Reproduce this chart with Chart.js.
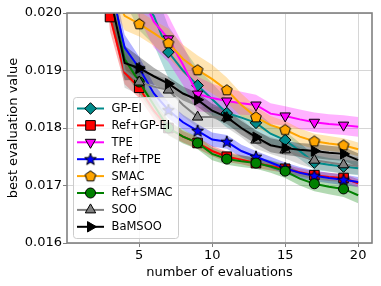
<!DOCTYPE html>
<html>
<head>
<meta charset="utf-8">
<script src="https://cdn.jsdelivr.net/npm/chart.js@4.4.0/dist/chart.umd.min.js"></script>
<style>
  html, body { margin: 0; padding: 0; background: #fff; }
</style>
</head>
<body>
<canvas id="myChart" width="381" height="286"></canvas>
<script>
// data (values above 0.020 are clipped there)
const evals = [1,2,3,4,5,6,7,8,9,10,11,12,13,14,15,16,17,18,19,20]
const xTicks = [5, 10, 15, 20]
const yTicks = [0.016, 0.017, 0.018, 0.019, 0.020]
const seriesNames = ['GP-EI', 'Ref+GP-EI', 'TPE', 'Ref+TPE', 'SMAC', 'Ref+SMAC', 'SOO', 'BaMSOO']

const gpEi = [0.0235,0.0228,0.0215,0.0208,0.0203,0.01995,0.01932,0.0190,0.01874,0.0185,0.01826,0.01818,0.01809,0.0179,0.01779,0.0176,0.0174,0.01736,0.01733,0.0173]
const refGpEi = [0.0245,0.0225,0.01993,0.01896,0.0187,0.0183,0.0180,0.01785,0.01774,0.0176,0.0175,0.01745,0.01739,0.01734,0.01729,0.01723,0.01718,0.01715,0.01713,0.01704]
const tpe = [0.024,0.0232,0.0222,0.0212,0.0204,0.01985,0.01955,0.0191,0.01859,0.01852,0.01847,0.01843,0.0184,0.01825,0.01821,0.01815,0.0181,0.01807,0.01805,0.01802]
const refTpe = [0.024,0.0228,0.0205,0.0194,0.01904,0.0186,0.01831,0.0181,0.01795,0.0178,0.01776,0.0176,0.0175,0.0174,0.0173,0.01722,0.01717,0.01713,0.0171,0.01706]
const smac = [0.024,0.0225,0.0205,0.01995,0.01981,0.01965,0.01948,0.0192,0.01901,0.01885,0.01866,0.0184,0.01819,0.01805,0.01797,0.01785,0.01777,0.01773,0.0177,0.01763]
const refSmac = [0.0245,0.0228,0.0203,0.0192,0.0188,0.0184,0.0180,0.01785,0.01774,0.01755,0.01746,0.01742,0.01739,0.01733,0.01725,0.01712,0.01703,0.01698,0.01694,0.01683]
const soo = [0.0245,0.023,0.0205,0.019,0.0188,0.01872,0.01866,0.0184,0.01819,0.01819,0.01818,0.018,0.01779,0.0177,0.01762,0.01752,0.01744,0.0174,0.01736,0.01734]
const baMsoo = [0.0245,0.023,0.0203,0.01913,0.01904,0.0189,0.01877,0.0186,0.01849,0.0183,0.01819,0.018,0.01784,0.0177,0.01765,0.01762,0.0176,0.01757,0.01755,0.01744]

// half widths of the shaded bands
const gpEiSpread = [0.0006,0.0006,0.0006,0.0006,0.0006,0.0005,0.00045,0.0004,0.0003,0.00028,0.00025,0.00022,0.0002,0.00018,0.00016,0.00014,0.00013,0.00012,0.00012,0.00012]
const refGpEiSpread = [0.0005,0.0004,0.00025,0.0002,0.00018,0.00015,0.00012,0.0001,0.0001,0.00009,0.00009,0.00008,0.00008,0.00008,0.00007,0.00007,0.00007,0.00007,0.00007,0.00007]
const tpeSpread = [0.0006,0.0006,0.0006,0.0006,0.0005,0.00045,0.0004,0.00035,0.0003,0.00025,0.00022,0.0002,0.00018,0.00018,0.00017,0.00017,0.00017,0.00017,0.00017,0.00017]
const refTpeSpread = [0.0005,0.0004,0.0003,0.00022,0.0002,0.00016,0.00014,0.00013,0.00012,0.00012,0.00012,0.00011,0.0001,0.0001,0.0001,0.0001,0.00009,0.00009,0.00009,0.00009]
const smacSpread = [0.0004,0.0004,0.0003,0.00025,0.00022,0.00022,0.00025,0.00025,0.00025,0.00025,0.00022,0.0002,0.00018,0.00016,0.00015,0.00014,0.00013,0.00013,0.00012,0.00012]
const refSmacSpread = [0.0005,0.0004,0.0003,0.00025,0.0002,0.00016,0.00013,0.00012,0.00011,0.00011,0.0001,0.0001,0.0001,0.00011,0.00012,0.00012,0.00013,0.00013,0.00014,0.00014]
const sooSpread = [0.0005,0.0005,0.0004,0.0003,0.00022,0.0002,0.0002,0.0002,0.00018,0.00018,0.00017,0.00016,0.00015,0.00015,0.00015,0.00015,0.00015,0.00015,0.00015,0.00015]
const baMsooSpread = [0.0005,0.0005,0.0004,0.0003,0.0002,0.00015,0.00012,0.00012,0.00012,0.00012,0.00012,0.00012,0.00012,0.00012,0.00012,0.00012,0.00012,0.00012,0.00012,0.00012]

const allValues = [gpEi, refGpEi, tpe, refTpe, smac, refSmac, soo, baMsoo]
const allSpreads = [gpEiSpread, refGpEiSpread, tpeSpread, refTpeSpread, smacSpread, refSmacSpread, sooSpread, baMsooSpread]

// custom marker shapes
function makeMarker(kind, color) {
    let c = document.createElement('canvas')
    c.width = 14
    c.height = 14
    let g = c.getContext('2d')
    g.beginPath()
    let n = kind == 'star' ? 10 : 5
    for (let k = 0; k < n; k++) {
        let ang = -Math.PI / 2 + k * 2 * Math.PI / n
        let r = kind == 'star' ? (k % 2 == 0 ? 6.3 : 2.6) : 5.6
        let px = 7 + r * Math.cos(ang)
        let py = 7.3 + r * Math.sin(ang)
        if (k == 0) g.moveTo(px, py)
        else g.lineTo(px, py)
    }
    g.closePath()
    g.fillStyle = color
    g.fill()
    g.lineWidth = 1
    g.strokeStyle = '#000'
    g.stroke()
    return c
}

const styles = [
    { color: '#008b8b', band: 'rgba(0,139,139,0.3)', pointStyle: 'rectRot', radius: 5.8, rotation: 0 },
    { color: '#ff0000', band: 'rgba(255,0,0,0.3)', pointStyle: 'rect', radius: 6.8, rotation: 0 },
    { color: '#ff00ff', band: 'rgba(255,0,255,0.3)', pointStyle: 'triangle', radius: 6, rotation: 180 },
    { color: '#0000ff', band: 'rgba(0,0,255,0.3)', pointStyle: makeMarker('star', '#0000ff'), radius: 5, rotation: 0 },
    { color: '#ffa500', band: 'rgba(255,165,0,0.3)', pointStyle: makeMarker('pentagon', '#ffa500'), radius: 5, rotation: 0 },
    { color: '#008000', band: 'rgba(0,128,0,0.3)', pointStyle: 'circle', radius: 5, rotation: 0 },
    { color: '#808080', band: 'rgba(128,128,128,0.3)', pointStyle: 'triangle', radius: 6, rotation: 0 },
    { color: '#000000', band: 'rgba(0,0,0,0.3)', pointStyle: 'triangle', radius: 6, rotation: 90 }
]

function pts(arr) {
    return evals.map((x, k) => ({ x: x, y: arr[k] }))
}

let datasets = []
allValues.forEach((vals, i) => {
    let sp = allSpreads[i]
    datasets.push({
        data: pts(vals.map((v, k) => v + sp[k])),
        borderWidth: 0, pointRadius: 0, fill: false, order: 100 - i
    })
    datasets.push({
        data: pts(vals.map((v, k) => v - sp[k])),
        borderWidth: 0, pointRadius: 0, fill: '-1',
        backgroundColor: styles[i].band, order: 100 - i
    })
})
allValues.forEach((vals, i) => {
    let s = styles[i]
    datasets.push({
        label: seriesNames[i],
        data: pts(vals),
        borderColor: s.color,
        borderWidth: 2,
        tension: 0,
        fill: false,
        pointStyle: s.pointStyle,
        pointRotation: s.rotation,
        pointBackgroundColor: s.color,
        pointBorderColor: '#000',
        pointBorderWidth: 1,
        pointRadius: c => (c.dataIndex % 2 == 0 ? s.radius : 0),
        order: 50 - i
    })
})

const framePlugin = {
    id: 'frame',
    afterDatasetsDraw(chart) {
        let ctx = chart.ctx
        let a = chart.chartArea
        ctx.save()
        ctx.strokeStyle = '#808080'
        ctx.lineWidth = 1.6
        ctx.strokeRect(a.left, a.top, a.right - a.left, a.bottom - a.top)
        ctx.restore()
    }
}

const boxLegend = {
    id: 'boxLegend',
    afterDraw(chart) {
        let ctx = chart.ctx
        ctx.save()
        ctx.beginPath()
        ctx.roundRect(73.5, 97.5, 105, 141, 3)
        ctx.fillStyle = 'rgba(255,255,255,0.8)'
        ctx.fill()
        ctx.strokeStyle = '#cccccc'
        ctx.lineWidth = 1
        ctx.stroke()
        seriesNames.forEach((name, i) => {
            let s = styles[i]
            let y = 108.5 + i * 16.9
            ctx.strokeStyle = s.color
            ctx.lineWidth = 2
            ctx.beginPath()
            ctx.moveTo(77, y)
            ctx.lineTo(104, y)
            ctx.stroke()
            ctx.fillStyle = s.color
            ctx.strokeStyle = '#000'
            ctx.lineWidth = 1
            Chart.helpers.drawPoint(ctx, { pointStyle: s.pointStyle, radius: s.radius, rotation: s.rotation, borderWidth: 1 }, 90.5, y)
            ctx.fillStyle = '#000'
            ctx.font = '11.5px "DejaVu Sans"'
            ctx.textBaseline = 'middle'
            ctx.fillText(name, 111.5, y + 0.5)
        })
        ctx.restore()
    }
}

const ctx = document.getElementById('myChart')

new Chart(ctx, {
    type: 'line',
    data: { datasets: datasets },
    options: {
        responsive: false,
        animation: false,
        devicePixelRatio: 1,
        layout: { padding: { top: 13, right: 9, left: 0, bottom: 0 } },
        plugins: { legend: { display: false }, tooltip: { enabled: false } },
        scales: {
            x: {
                type: 'linear',
                min: 0.05,
                max: 20.95,
                afterBuildTicks: sc => { sc.ticks = xTicks.map(v => ({ value: v })) },
                afterFit: sc => { sc.height = 43 },
                ticks: { color: '#000', font: { family: 'DejaVu Sans', size: 13 }, padding: 1, maxRotation: 0 },
                grid: { color: '#d6d6d6', tickColor: '#808080', tickLength: 4, lineWidth: 1 },
                border: { display: false },
                title: { display: true, text: 'number of evaluations', color: '#000', font: { family: 'DejaVu Sans', size: 13 }, padding: { top: 0, bottom: 6 } }
            },
            y: {
                min: 0.016,
                max: 0.020,
                afterBuildTicks: sc => { sc.ticks = yTicks.map(v => ({ value: v })) },
                afterFit: sc => { sc.width = 67 },
                ticks: { color: '#000', font: { family: 'DejaVu Sans', size: 13 }, padding: 1, callback: v => v.toFixed(3) },
                grid: { color: '#d6d6d6', tickColor: '#808080', tickLength: 4, lineWidth: 1 },
                border: { display: false },
                title: { display: true, text: 'best evaluation value', color: '#000', font: { family: 'DejaVu Sans', size: 13 }, padding: { top: 6, bottom: 0 } }
            }
        }
    },
    plugins: [framePlugin, boxLegend]
});
</script>
</body>
</html>
